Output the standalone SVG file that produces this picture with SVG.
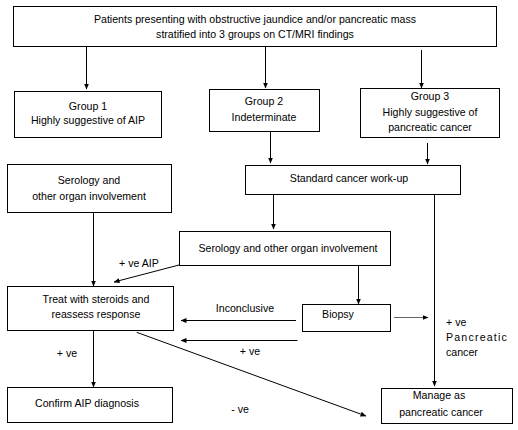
<svg xmlns="http://www.w3.org/2000/svg" width="518" height="430" viewBox="0 0 518 430">
<style>
.box{fill:#fff;stroke:#000;stroke-width:1}
text{font-family:"Liberation Sans",Arial,sans-serif;font-size:10.6px;fill:#000;text-anchor:middle}
.ln{stroke:#000;stroke-width:1;fill:none}
.lbl{text-anchor:start}
</style>
<defs>
<marker id="ah" markerWidth="6" markerHeight="5" refX="5.5" refY="2.5" orient="auto" markerUnits="userSpaceOnUse">
<path d="M0,0 L6,2.5 L0,5 Z" fill="#000"/>
</marker>
</defs>
<rect width="518" height="430" fill="#fff"/>
<g id="top"><rect class="box" x="13.5" y="6.5" width="483" height="40"/>
<text x="255" y="23">Patients presenting with obstructive jaundice and/or pancreatic mass</text>
<text x="255" y="38">stratified into 3 groups on CT/MRI findings</text></g>
<g id="g1"><rect class="box" x="14.5" y="91.5" width="147" height="46"/>
<text x="88" y="110">Group 1</text><text x="88" y="124">Highly suggestive of AIP</text></g>
<g id="g2"><rect class="box" x="209.5" y="89.5" width="110" height="42"/>
<text x="264" y="105">Group 2</text><text x="264" y="121">Indeterminate</text></g>
<g id="g3"><rect class="box" x="360.5" y="88.5" width="139" height="49"/>
<text x="430" y="100">Group 3</text><text x="430" y="116">Highly suggestive of</text><text x="430" y="131">pancreatic cancer</text></g>
<g id="ser1"><rect class="box" x="7.5" y="164.5" width="164" height="48"/>
<text x="89" y="184">Serology and</text><text x="89" y="200">other organ involvement</text></g>
<g id="std"><rect class="box" x="245.5" y="165.5" width="215" height="29"/>
<text x="349" y="182">Standard cancer work-up</text></g>
<g id="ser2"><rect class="box" x="179.5" y="231.5" width="211" height="34"/>
<text x="288" y="252">Serology and other organ involvement</text></g>
<g id="treat"><rect class="box" x="7.5" y="286.5" width="166" height="44"/>
<text x="96" y="303">Treat with steroids and</text><text x="96" y="318">reassess response</text></g>
<g id="biopsy"><rect class="box" x="302.5" y="304.5" width="88" height="27"/>
<text x="338" y="318">Biopsy</text></g>
<g id="confirm"><rect class="box" x="7.5" y="387.5" width="165" height="35"/>
<text x="87" y="407">Confirm AIP diagnosis</text></g>
<g id="manage"><rect class="box" x="381.5" y="388.5" width="131" height="35"/>
<text x="439" y="399">Manage as</text><text x="441" y="416">pancreatic cancer</text></g>
<g id="connectors">
<line class="ln" x1="86.5" y1="47" x2="86.5" y2="89" marker-end="url(#ah)"/>
<line class="ln" x1="265.5" y1="47" x2="265.5" y2="88" marker-end="url(#ah)"/>
<line class="ln" x1="421.5" y1="50" x2="421.5" y2="88" marker-end="url(#ah)"/>
<line class="ln" x1="270.5" y1="132" x2="270.5" y2="163" marker-end="url(#ah)"/>
<line class="ln" x1="427.5" y1="143" x2="427.5" y2="164" marker-end="url(#ah)"/>
<line class="ln" x1="273.5" y1="195" x2="273.5" y2="229" marker-end="url(#ah)"/>
<line class="ln" x1="434.5" y1="195" x2="434.5" y2="386" marker-end="url(#ah)"/>
<line class="ln" x1="93.5" y1="213" x2="93.5" y2="286" marker-end="url(#ah)"/>
<line class="ln" x1="179" y1="265" x2="114" y2="282" marker-end="url(#ah)"/>
<line class="ln" x1="358.5" y1="266" x2="358.5" y2="304" marker-end="url(#ah)"/>
<line class="ln" x1="296" y1="320.5" x2="181" y2="320.5" marker-end="url(#ah)"/>
<line class="ln" x1="297.5" y1="340.5" x2="181" y2="340.5" marker-end="url(#ah)"/>
<line x1="394" y1="317.5" x2="428" y2="317.5" stroke="#666" stroke-width="1" marker-end="url(#ah)"/>
<line class="ln" x1="93.5" y1="331" x2="93.5" y2="387" marker-end="url(#ah)"/>
<line class="ln" x1="136.7" y1="332.3" x2="366" y2="416" marker-end="url(#ah)"/>
<text class="lbl" x="119" y="267">+ ve AIP</text>
<text x="245" y="312">Inconclusive</text>
<text x="250" y="355">+ ve</text>
<text class="lbl" x="446" y="326">+ ve</text>
<text class="lbl" x="446" y="341" letter-spacing="1.2">Pancreatic</text>
<text class="lbl" x="446" y="356">cancer</text>
<text x="67" y="357">+ ve</text>
<text x="240" y="413">- ve</text>
</g>
</svg>
